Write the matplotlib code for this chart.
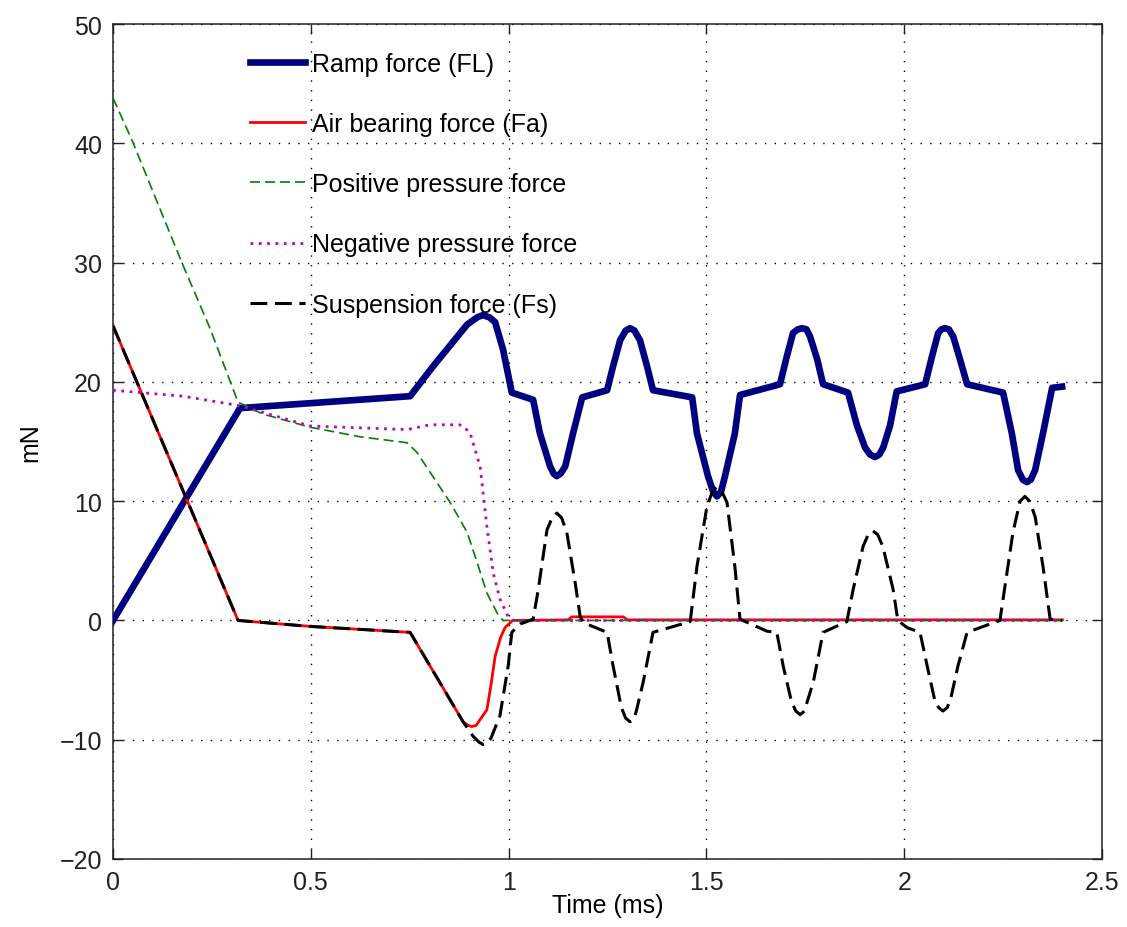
import matplotlib
matplotlib.use("Agg")
import matplotlib.pyplot as plt

# ---------------- data ----------------
t_ramp = [0, 0.321, 0.751, 0.809, 0.895, 0.92, 0.935, 0.952, 0.966, 0.986, 1.008, 1.062, 1.079, 1.105,
          1.114, 1.122, 1.131, 1.143, 1.163, 1.186, 1.249, 1.264, 1.282, 1.296, 1.307, 1.318, 1.332, 1.350, 1.365,
          1.464, 1.476, 1.504, 1.517, 1.527, 1.537, 1.547, 1.572, 1.585, 1.686, 1.703, 1.719, 1.731, 1.742,
          1.753, 1.762, 1.780, 1.795, 1.858, 1.881, 1.901, 1.914, 1.926, 1.937, 1.947, 1.964, 1.981, 2.053,
          2.070, 2.086, 2.094, 2.103, 2.113, 2.124, 2.141, 2.159, 2.250, 2.272, 2.288, 2.300, 2.310, 2.320, 2.331,
          2.351, 2.374, 2.399]
v_ramp = [0, 17.8, 18.8, 21.3, 24.8, 25.4, 25.6, 25.4, 25.0, 22.7, 19.1, 18.5, 15.7, 12.9,
          12.3, 12.1, 12.3, 12.9, 15.7, 18.7, 19.3, 21.3, 23.5, 24.3, 24.5, 24.3, 23.5, 21.3, 19.3,
          18.7, 15.7, 12.1, 10.8, 10.4, 10.8, 12.1, 15.7, 18.9, 19.8, 22.1, 24.1, 24.4, 24.5,
          24.4, 23.8, 21.9, 19.8, 19.1, 16.3, 14.5, 13.9, 13.7, 13.9, 14.5, 16.3, 19.2, 19.8,
          22.1, 24.1, 24.4, 24.5, 24.4, 23.8, 21.9, 19.8, 19.1, 15.7, 12.6, 11.8, 11.6, 11.8, 12.6,
          15.7, 19.5, 19.6]

t_air = [0, 0.316, 0.498, 0.751, 0.885, 0.898, 0.907, 0.918, 0.928, 0.945, 0.955, 0.966, 0.980,
         0.991, 1.01, 1.15, 1.16, 1.29, 1.30, 2.40]
v_air = [24.7, 0, -0.5, -1.0, -8.5, -8.8, -8.9, -8.8, -8.3, -7.5, -5.5, -3.0, -1.4,
         -0.6, 0, 0.05, 0.3, 0.3, 0.05, 0.05]

t_pos = [0, 0.05, 0.174, 0.245, 0.316, 0.379, 0.498, 0.624, 0.743, 0.768, 0.852,
         0.895, 0.920, 0.945, 0.973, 0.986, 2.40]
v_pos = [43.8, 40.1, 30.0, 24.5, 18.3, 17.3, 16.2, 15.4, 14.9, 14.1, 9.9,
         7.4, 4.9, 2.3, 0.5, 0, 0]

t_neg = [0, 0.177, 0.321, 0.498, 0.743, 0.801, 0.877, 0.902, 0.928, 0.945, 0.961,
         0.978, 0.999, 1.01, 2.40]
v_neg = [19.3, 18.8, 18.0, 16.3, 16.0, 16.4, 16.4, 15.8, 12.9, 7.9, 4.0,
         1.8, 0.3, 0, 0]

t_susp = [0, 0.316, 0.498, 0.751, 0.885, 0.91, 0.925, 0.935, 0.945, 0.955, 0.978, 0.999, 1.008,
          1.029, 1.062, 1.075, 1.097, 1.110, 1.122, 1.134, 1.147, 1.168, 1.181, 1.19, 1.249,
          1.264, 1.285, 1.296, 1.307, 1.318, 1.325, 1.340, 1.365, 1.459, 1.476, 1.501, 1.515, 1.527,
          1.539, 1.552, 1.572, 1.585, 1.653, 1.678, 1.694, 1.715, 1.726, 1.737, 1.748, 1.755, 1.770,
          1.795, 1.855, 1.871, 1.896, 1.909, 1.921, 1.933, 1.946, 1.972, 1.984, 2.007, 2.040,
          2.058, 2.078, 2.087, 2.098, 2.109, 2.118, 2.136, 2.159, 2.242, 2.250, 2.275, 2.293, 2.305,
          2.317, 2.331, 2.351, 2.369, 2.399]
v_susp = [24.7, 0, -0.5, -1.0, -8.5, -9.7, -10.2, -10.4, -10.3, -9.9, -8.0, -3.8, -1.0,
          -0.3, 0.1, 2.6, 7.6, 8.6, 9.0, 8.6, 7.4, 3.2, 0.3, -0.2, -1.0,
          -3.8, -7.3, -8.2, -8.5, -8.2, -7.3, -5.2, -1.0, -0.1, 4.5, 9.5, 10.8, 11.2,
          10.8, 9.9, 4.5, 0.1, -0.9, -1.0, -3.8, -6.8, -7.6, -7.9, -7.6, -6.8, -5.2,
          -1.0, -0.1, 2.6, 6.2, 7.2, 7.5, 7.2, 6.2, 2.6, 0, -0.6, -1.0,
          -3.8, -6.8, -7.3, -7.6, -7.3, -6.5, -3.8, -1.0, 0, 1.8, 7.4, 10.0, 10.4,
          10.0, 8.7, 4.5, 0.1, 0]

labels = ["Ramp force (FL)", "Air bearing force (Fa)", "Positive pressure force",
          "Negative pressure force", "Suspension force (Fs)"]
x_ticks = [0, 0.5, 1, 1.5, 2, 2.5]
x_ticklabels = ["0", "0.5", "1", "1.5", "2", "2.5"]
y_ticks = [-20, -10, 0, 10, 20, 30, 40, 50]
y_ticklabels = ["\u221220", "\u221210", "0", "10", "20", "30", "40", "50"]

# ---------------- figure ----------------
plt.rcParams['font.family'] = ['Liberation Sans', 'DejaVu Sans']
fig = plt.figure(figsize=(11.27, 9.28), dpi=100)
ax = fig.add_axes([0.1003, 0.0733, 0.8775, 0.8997])

ax.plot(t_ramp, v_ramp, color='#000080', lw=4.8, label=labels[0], zorder=3)
ax.plot(t_air, v_air, color='#ff0000', lw=2.0, label=labels[1], zorder=3)
ax.plot(t_pos, v_pos, color='#008000', lw=1.2, dashes=(6, 3), label=labels[2], zorder=3)
ax.plot(t_neg, v_neg, color='#bf00bf', lw=2.0, dashes=(1, 2), label=labels[3], zorder=3)
ax.plot(t_susp, v_susp, color='black', lw=2.2, dashes=(5.5, 2.5), label=labels[4], zorder=4)

ax.set_xlim(0, 2.5)
ax.set_ylim(-20, 50)
ax.set_xticks(x_ticks)
ax.set_xticklabels(x_ticklabels)
ax.set_yticks(y_ticks)
ax.set_yticklabels(y_ticklabels)
ax.tick_params(direction='in', top=True, right=True, length=7, width=1.0,
               labelsize=18, colors='#222222')
ax.tick_params(axis='x', pad=8)
ax.tick_params(axis='y', pad=8)
ax.grid(True, color='black', linestyle=(0, (1, 6)), linewidth=1.0)
ax.set_axisbelow(True)
for s in ax.spines.values():
    s.set_linewidth(1.1)
    s.set_color('#222222')

ax.set_xlabel("Time (ms)", fontsize=18, labelpad=-1)
ax.set_ylabel("mN", fontsize=18, labelpad=12)

leg = ax.legend(loc='upper left', bbox_to_anchor=(0.128, 0.979), frameon=False,
                fontsize=18, handlelength=2.2, handletextpad=0.3, labelspacing=1.45,
                borderaxespad=0)

fig.savefig("out.png", dpi=100)
